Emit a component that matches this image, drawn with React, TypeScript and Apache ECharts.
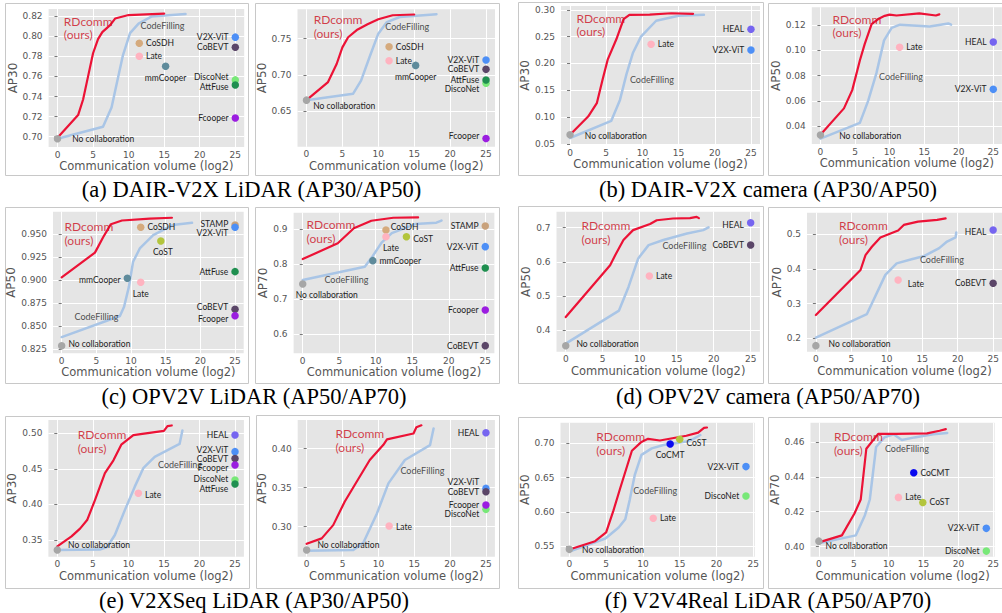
import React, { useEffect, useRef } from "react";
import * as echarts from "echarts";

type P = [number, number];
type M = [string, number, number];

const X_TICKS = [0, 5, 10, 15, 20, 25];

// ---------- (a) DAIR-V2X LiDAR ----------
const a1_yTicks = [0.7, 0.72, 0.74, 0.76, 0.78, 0.8, 0.82];
const a1_rdcomm: P[] = [[0, 0.699], [2.9, 0.7215], [3.6, 0.737], [4.3, 0.76], [5.0, 0.783], [5.7, 0.797], [6.3, 0.804], [7.4, 0.811], [8.1, 0.8175], [10, 0.821], [15, 0.8225]];
const a1_codefilling: P[] = [[0, 0.698], [6.4, 0.71], [7.6, 0.729], [8.3, 0.752], [9.2, 0.781], [10.2, 0.803], [11.4, 0.8125], [13.2, 0.8195], [18, 0.822]];
const a1_methods: M[] = [["No collaboration", 0, 0.698], ["CoSDH", 11.5, 0.793], ["Late", 11.5, 0.78], ["mmCooper", 15.2, 0.77], ["V2X-ViT", 25, 0.799], ["CoBEVT", 25, 0.789], ["DiscoNet", 25, 0.7565], ["AttFuse", 25, 0.7515], ["Fcooper", 25, 0.7186]];
const a1_notes: P[] = [[0.82, 0.8083], [11.6, 0.811]];

const a2_yTicks = [0.65, 0.7, 0.75];
const a2_rdcomm: P[] = [[0, 0.665], [3, 0.69], [4.2, 0.715], [5, 0.738], [5.8, 0.752], [7, 0.762], [8.5, 0.77], [10, 0.777], [12, 0.7825], [15, 0.7835]];
const a2_codefilling: P[] = [[0, 0.665], [6.5, 0.674], [7.6, 0.692], [8.8, 0.725], [10, 0.757], [11.2, 0.773], [13, 0.78], [18.1, 0.784]];
const a2_methods: M[] = [["No collaboration", 0, 0.665], ["CoSDH", 11.5, 0.739], ["Late", 11.5, 0.7196], ["mmCooper", 15.2, 0.7131], ["V2X-ViT", 25, 0.7205], ["CoBEVT", 25, 0.7076], ["DiscoNet", 25, 0.6883], ["AttFuse", 25, 0.6929], ["Fcooper", 25, 0.612]];
const a2_notes: P[] = [[0.93, 0.7666], [10.9, 0.7666]];

// ---------- (b) DAIR-V2X camera ----------
const b1_yTicks = [0.05, 0.1, 0.15, 0.2, 0.25, 0.3];
const b1_rdcomm: P[] = [[0, 0.067], [2.5, 0.101], [3.7, 0.126], [4.5, 0.17], [5.2, 0.207], [6.4, 0.245], [7.4, 0.2825], [8.2, 0.2905], [11, 0.291], [14, 0.2935], [17, 0.2925]];
const b1_codefilling: P[] = [[0, 0.061], [5.7, 0.093], [6.9, 0.132], [7.8, 0.18], [8.7, 0.22], [9.8, 0.25], [11.9, 0.2795], [15, 0.289], [18.5, 0.2905]];
const b1_methods: M[] = [["No collaboration", 0, 0.067], ["Late", 11.2, 0.2356], ["HEAL", 25, 0.2638], ["V2X-ViT", 25, 0.225]];
const b1_notes: P[] = [[0.82, 0.2713], [8.2, 0.17]];

const b2_yTicks = [0.04, 0.06, 0.08, 0.1, 0.12];
const b2_rdcomm: P[] = [[0, 0.033], [3.4, 0.054], [4.6, 0.0685], [5.7, 0.092], [6.4, 0.105], [7.4, 0.121], [8.5, 0.1255], [9.3, 0.1275], [10, 0.1285], [11, 0.1278], [14.3, 0.1295], [16.7, 0.1278], [17.2, 0.1287]];
const b2_codefilling: P[] = [[0, 0.03], [5.7, 0.0425], [6.9, 0.06], [8.1, 0.082], [9.2, 0.108], [10.3, 0.118], [11.5, 0.1205], [15.8, 0.119], [18.5, 0.1215], [18.9, 0.1205]];
const b2_methods: M[] = [["No collaboration", 0, 0.0329], ["Late", 11.45, 0.1025], ["HEAL", 25, 0.1068], ["V2X-ViT", 25, 0.0691]];
const b2_notes: P[] = [[1.68, 0.1195], [8.4, 0.0792]];

// ---------- (c) OPV2V LiDAR ----------
const c1_yTicks = [0.825, 0.85, 0.875, 0.9, 0.925, 0.95];
const c1_rdcomm: P[] = [[0, 0.903], [4.8, 0.93], [6, 0.947], [7.1, 0.961], [8.7, 0.965], [12.7, 0.967], [15.9, 0.968]];
const c1_codefilling: P[] = [[0, 0.838], [8.4, 0.861], [9.0, 0.871], [9.7, 0.893], [10.3, 0.92], [11.3, 0.935], [13.2, 0.949], [16, 0.96], [18.8, 0.9625]];
const c1_methods: M[] = [["No collaboration", 0, 0.8286], ["CoSDH", 11.4, 0.9576], ["CoST", 14.3, 0.9427], ["mmCooper", 9.47, 0.902], ["Late", 11.4, 0.8977], ["STAMP", 25, 0.9602], ["V2X-ViT", 25, 0.9576], ["AttFuse", 25, 0.9093], ["CoBEVT", 25, 0.8682], ["Fcooper", 25, 0.8613]];
const c1_notes: P[] = [[0.34, 0.951], [1.78, 0.8603]];

const c2_yTicks = [0.6, 0.7, 0.8, 0.9];
const c2_rdcomm: P[] = [[0, 0.815], [4.8, 0.86], [7, 0.903], [9.4, 0.9245], [12.4, 0.933], [15.8, 0.934]];
const c2_codefilling: P[] = [[0, 0.755], [8.5, 0.793], [9.6, 0.824], [10.8, 0.862], [12.2, 0.889], [15.4, 0.915], [18.3, 0.919], [19, 0.925]];
const c2_methods: M[] = [["No collaboration", 0, 0.7438], ["CoSDH", 11.4, 0.898], ["Late", 11.4, 0.879], ["CoST", 14.2, 0.879], ["mmCooper", 9.6, 0.8105], ["STAMP", 25, 0.9095], ["V2X-ViT", 25, 0.8505], ["AttFuse", 25, 0.7895], ["Fcooper", 25, 0.6695], ["CoBEVT", 25, 0.5676]];
const c2_notes: P[] = [[0.46, 0.8933], [2.9, 0.7552]];

// ---------- (d) OPV2V camera ----------
const d1_yTicks = [0.4, 0.5, 0.6, 0.7];
const d1_rdcomm: P[] = [[0, 0.438], [6, 0.59], [6.7, 0.62], [7.8, 0.664], [9.1, 0.693], [11.4, 0.711], [12.3, 0.722], [14.5, 0.727], [16.8, 0.728], [17.7, 0.732], [18, 0.728]];
const d1_codefilling: P[] = [[0, 0.36], [7.2, 0.457], [8.5, 0.527], [9.8, 0.61], [11.2, 0.649], [13.2, 0.664], [16.4, 0.683], [18.6, 0.693], [19.3, 0.701]];
const d1_methods: M[] = [["No collaboration", 0, 0.354], ["Late", 11.3, 0.5583], ["HEAL", 25, 0.7147], ["CoBEVT", 25, 0.6492]];
const d1_notes: P[] = [[2.07, 0.6863], [13, 0.6492]];

const d2_yTicks = [0.2, 0.3, 0.4, 0.5];
const d2_rdcomm: P[] = [[0, 0.267], [6.3, 0.397], [7, 0.44], [7.9, 0.464], [9.1, 0.491], [11.6, 0.511], [12.4, 0.527], [14.4, 0.5365], [17.1, 0.5415], [18.3, 0.546]];
const d2_codefilling: P[] = [[0, 0.202], [7.2, 0.27], [9.8, 0.383], [11.4, 0.416], [13.5, 0.428], [15.3, 0.4375], [17.4, 0.46], [18.5, 0.479], [19.7, 0.491], [19.8, 0.505]];
const d2_methods: M[] = [["No collaboration", 0, 0.1788], ["Late", 11.6, 0.3683], ["HEAL", 25, 0.5125], ["CoBEVT", 25, 0.3587]];
const d2_notes: P[] = [[3.2, 0.5058], [14.6, 0.426]];

// ---------- (e) V2XSeq LiDAR ----------
const e1_yTicks = [0.35, 0.4, 0.45, 0.5];
const e1_rdcomm: P[] = [[0, 0.341], [2, 0.355], [3.2, 0.366], [4.2, 0.378], [5.3, 0.406], [6.7, 0.444], [7.9, 0.462], [9, 0.484], [10.7, 0.4975], [15, 0.5035], [15.5, 0.51], [16.1, 0.511]];
const e1_codefilling: P[] = [[0, 0.336], [6, 0.3365], [7, 0.34], [8.1, 0.357], [9.5, 0.392], [10.9, 0.425], [12.1, 0.451], [13.7, 0.467], [17.2, 0.485], [17.6, 0.504]];
const e1_methods: M[] = [["No collaboration", 0, 0.3359], ["Late", 11.4, 0.4156], ["HEAL", 25, 0.4977], ["V2X-ViT", 25, 0.4742], ["CoBEVT", 25, 0.4644], ["Fcooper", 25, 0.4555], ["DiscoNet", 25, 0.4344], ["AttFuse", 25, 0.4287]];
const e1_notes: P[] = [[2.8, 0.4883], [14.1, 0.4564]];

const e2_yTicks = [0.3, 0.35, 0.4];
const e2_rdcomm: P[] = [[0, 0.278], [2.1, 0.285], [3.7, 0.302], [5.3, 0.332], [6.7, 0.3535], [8.8, 0.3855], [10.7, 0.405], [11.2, 0.412], [14.9, 0.4195], [15.3, 0.4275], [16, 0.43]];
const e2_codefilling: P[] = [[0, 0.269], [6.5, 0.27], [7.9, 0.2795], [9.8, 0.317], [11.4, 0.3555], [13.7, 0.3855], [17.2, 0.4045], [17.7, 0.426]];
const e2_methods: M[] = [["No collaboration", 0, 0.2701], ["Late", 11.5, 0.3009], ["HEAL", 25, 0.4205], ["V2X-ViT", 25, 0.3491], ["CoBEVT", 25, 0.3449], ["DiscoNet", 25, 0.3222], ["Fcooper", 25, 0.3278]];
const e2_notes: P[] = [[3.95, 0.4103], [13, 0.3714]];

// ---------- (f) V2V4Real LiDAR ----------
const f1_yTicks = [0.55, 0.6, 0.65, 0.7];
const f1_rdcomm: P[] = [[0, 0.545], [3.5, 0.557], [5, 0.57], [6, 0.602], [6.9, 0.634], [8.5, 0.689], [9.8, 0.702], [10.7, 0.7065], [12.3, 0.704], [15.9, 0.711], [17.5, 0.7155], [18.3, 0.7225], [18.7, 0.723]];
const f1_codefilling: P[] = [[0, 0.542], [4.9, 0.561], [6.7, 0.577], [7.6, 0.589], [8.2, 0.617], [8.9, 0.654], [9.8, 0.683], [11.2, 0.6925], [12.8, 0.6975], [15.9, 0.7025], [16.8, 0.706], [17.8, 0.712]];
const f1_methods: M[] = [["No collaboration", 0, 0.5451], ["Late", 11.4, 0.5904], ["CoCMT", 13.7, 0.699], ["CoST", 15, 0.7058], ["V2X-ViT", 24, 0.6659], ["DiscoNet", 24, 0.623]];
const f1_notes: P[] = [[3.6, 0.7], [8.6, 0.6308]];

const f2_yTicks = [0.4, 0.42, 0.44, 0.46];
const f2_rdcomm: P[] = [[0, 0.4025], [3.3, 0.4065], [5.1, 0.419], [6, 0.427], [6.8, 0.456], [8.5, 0.4645], [11, 0.4645], [15.5, 0.4648], [17.3, 0.4663], [18.2, 0.4672]];
const f2_codefilling: P[] = [[0, 0.402], [5.3, 0.4065], [6.6, 0.418], [7.3, 0.427], [8.2, 0.457], [9.4, 0.4625], [10.7, 0.4643], [11.9, 0.461], [13.7, 0.4625], [16.4, 0.4643], [18.4, 0.465]];
const f2_methods: M[] = [["No collaboration", 0, 0.4032], ["CoCMT", 13.6, 0.4423], ["Late", 11.4, 0.4282], ["CoST", 14.9, 0.4253], ["V2X-ViT", 24, 0.4105], ["DiscoNet", 24, 0.3975]];
const f2_notes: P[] = [[2.1, 0.459], [9.4, 0.4562]];

const CAPTIONS = [
  "(a) DAIR-V2X LiDAR (AP30/AP50)",
  "(b) DAIR-V2X camera (AP30/AP50)",
  "(c) OPV2V LiDAR (AP50/AP70)",
  "(d) OPV2V camera (AP50/AP70)",
  "(e) V2XSeq LiDAR (AP30/AP50)",
  "(f) V2V4Real LiDAR (AP50/AP70)",
];

// ---------- styles / layout ----------
const COLORS: Record<string, string> = {
  "No collaboration": "#a6a6a6",
  CoSDH: "#d5aa7d",
  STAMP: "#c9a27c",
  Late: "#ffb3c0",
  mmCooper: "#5f8b9b",
  "V2X-ViT": "#4d8ff6",
  CoBEVT: "#5b4668",
  DiscoNet: "#78e878",
  AttFuse: "#1f8f4f",
  Fcooper: "#9b1de0",
  HEAL: "#7665f0",
  CoST: "#b3c53c",
  CoCMT: "#0a0af0",
};

type Layout = { frame: number[]; grid: number[]; xr: number[]; yr: number[]; dec: number; yName: string; yDist: number };
const LAYOUT: Record<string, Layout> = {
  a1: { frame: [5, 3, 248, 175], grid: [48.6, 9, 244.2, 147], xr: [-1.25, 26.25], yr: [0.6898, 0.827], dec: 2, yName: "AP30", yDist: 33.5 },
  a2: { frame: [255, 3, 499, 175], grid: [297.5, 9.3, 495, 146.7], xr: [-1.25, 26.25], yr: [0.6006, 0.7907], dec: 2, yName: "AP50", yDist: 32 },
  b1: { frame: [518, 2, 763, 175], grid: [561, 6, 760, 145], xr: [-1.25, 26.25], yr: [0.048, 0.307], dec: 2, yName: "AP30", yDist: 33 },
  b2: { frame: [768, 3, 1012, 175], grid: [811.8, 7.3, 1007.9, 144], xr: [-1.25, 26.25], yr: [0.0257, 0.1343], dec: 2, yName: "AP50", yDist: 34 },
  c1: { frame: [5, 207, 248, 383], grid: [53, 211.7, 243.7, 353.3], xr: [-1.25, 26.25], yr: [0.8203, 0.9746], dec: 3, yName: "AP50", yDist: 38 },
  c2: { frame: [255, 207, 499, 383], grid: [293.6, 212.7, 494.4, 353.3], xr: [-1.25, 26.25], yr: [0.5457, 0.9475], dec: 1, yName: "AP70", yDist: 28.6 },
  d1: { frame: [518, 206, 763, 383], grid: [556.5, 211.7, 759.9, 351.7], xr: [-1.25, 26.25], yr: [0.3364, 0.747], dec: 1, yName: "AP50", yDist: 28 },
  d2: { frame: [768, 207, 1012, 383], grid: [807, 212.7, 1005.9, 351.7], xr: [-1.25, 26.25], yr: [0.1613, 0.5623], dec: 1, yName: "AP70", yDist: 27.7 },
  e1: { frame: [5, 416, 249, 588], grid: [48.4, 420, 243.9, 556.7], xr: [-1.25, 26.25], yr: [0.3265, 0.5187], dec: 2, yName: "AP30", yDist: 33.4 },
  e2: { frame: [256, 415, 499, 588], grid: [297.7, 420, 494.9, 556.7], xr: [-1.25, 26.25], yr: [0.2615, 0.4368], dec: 2, yName: "AP50", yDist: 32.7 },
  f1: { frame: [518, 417, 763, 588], grid: [560.5, 422.7, 754.8, 556.7], xr: [-1.2, 25.2], yr: [0.5344, 0.73], dec: 2, yName: "AP50", yDist: 32 },
  f2: { frame: [768, 417, 1012, 588], grid: [810.5, 422.7, 1005, 556.7], xr: [-1.2, 25.2], yr: [0.3943, 0.4709], dec: 2, yName: "AP70", yDist: 31.2 },
};

const CAPTION_POS: number[][] = [[251.5, 189], [768, 189], [254, 396], [768, 396], [254, 600], [768, 600]];

// [position, dx, dy]; default: left for right-column methods, right otherwise
const LABEL_POS: Record<string, [string, number, number]> = {
  "a1|No collaboration": ["right", 8, 0],
  "a1|mmCooper": ["bottom", 0, 0],
  "a1|DiscoNet": ["left", 0, -3],
  "a1|AttFuse": ["left", 0, 2],
  "a2|No collaboration": ["right", 0, 6],
  "a2|mmCooper": ["bottom", 0, 0],
  "a2|DiscoNet": ["left", 0, 6],
  "a2|Fcooper": ["left", 0, -2],
  "b1|No collaboration": ["right", 8, 1],
  "b2|No collaboration": ["right", 12, 1],
  "c1|No collaboration": ["right", 0, -2],
  "c1|CoST": ["bottom", 2, 0],
  "c1|mmCooper": ["left", 0, 2],
  "c1|Late": ["bottom", 0, 0],
  "c1|STAMP": ["left", 0, -1],
  "c1|V2X-ViT": ["left", 0, 6],
  "c1|CoBEVT": ["left", 0, -2],
  "c1|Fcooper": ["left", 0, 3],
  "c2|No collaboration": ["bottom", 24, 0],
  "c2|CoSDH": ["right", -2, -3],
  "c2|Late": ["bottom", 5, 0],
  "c2|CoST": ["right", 0, 2],
  "d1|No collaboration": ["right", 4, -2],
  "d1|HEAL": ["left", 0, 2],
  "d2|No collaboration": ["right", 6, -2],
  "d2|Late": ["right", 3, 4],
  "d2|HEAL": ["left", 0, 2],
  "e1|No collaboration": ["right", 4, -5],
  "e1|Late": ["right", 0, 2],
  "e1|V2X-ViT": ["left", 0, -2],
  "e1|Fcooper": ["left", 0, 3],
  "e1|DiscoNet": ["left", 0, -1],
  "e1|AttFuse": ["left", 0, 5],
  "e2|No collaboration": ["right", 4, -5],
  "e2|Late": ["right", 0, 1],
  "e2|V2X-ViT": ["left", 0, -6],
  "e2|DiscoNet": ["left", 0, 5],
  "f1|No collaboration": ["right", 6, 1],
  "f1|CoCMT": ["bottom", 0, 0],
  "f1|CoST": ["right", 0, 4],
  "f2|No collaboration": ["right", 0, 5],
};

const PANELS = [
  { id: "a1", yTicks: a1_yTicks, rd: a1_rdcomm, cf: a1_codefilling, methods: a1_methods, notes: a1_notes },
  { id: "a2", yTicks: a2_yTicks, rd: a2_rdcomm, cf: a2_codefilling, methods: a2_methods, notes: a2_notes },
  { id: "b1", yTicks: b1_yTicks, rd: b1_rdcomm, cf: b1_codefilling, methods: b1_methods, notes: b1_notes },
  { id: "b2", yTicks: b2_yTicks, rd: b2_rdcomm, cf: b2_codefilling, methods: b2_methods, notes: b2_notes },
  { id: "c1", yTicks: c1_yTicks, rd: c1_rdcomm, cf: c1_codefilling, methods: c1_methods, notes: c1_notes },
  { id: "c2", yTicks: c2_yTicks, rd: c2_rdcomm, cf: c2_codefilling, methods: c2_methods, notes: c2_notes },
  { id: "d1", yTicks: d1_yTicks, rd: d1_rdcomm, cf: d1_codefilling, methods: d1_methods, notes: d1_notes },
  { id: "d2", yTicks: d2_yTicks, rd: d2_rdcomm, cf: d2_codefilling, methods: d2_methods, notes: d2_notes },
  { id: "e1", yTicks: e1_yTicks, rd: e1_rdcomm, cf: e1_codefilling, methods: e1_methods, notes: e1_notes },
  { id: "e2", yTicks: e2_yTicks, rd: e2_rdcomm, cf: e2_codefilling, methods: e2_methods, notes: e2_notes },
  { id: "f1", yTicks: f1_yTicks, rd: f1_rdcomm, cf: f1_codefilling, methods: f1_methods, notes: f1_notes },
  { id: "f2", yTicks: f2_yTicks, rd: f2_rdcomm, cf: f2_codefilling, methods: f2_methods, notes: f2_notes },
];

const AXIS_FONT = "DejaVu Sans";
const LABEL_FONT = "Lato";
const AXIS_GREY = "#555555";

function buildOption() {
  const grid: any[] = [];
  const xAxis: any[] = [];
  const yAxis: any[] = [];
  const series: any[] = [];
  const graphic: any[] = [];

  PANELS.forEach((p, i) => {
    const L = LAYOUT[p.id];
    const [gl, gt, gr, gb] = L.grid;
    grid.push({ left: gl, top: gt, width: gr - gl, height: gb - gt, show: true, backgroundColor: "#e5e5e5", borderWidth: 0, containLabel: false });
    xAxis.push({
      type: "value", gridIndex: i, min: L.xr[0], max: L.xr[1],
      axisLine: { show: false },
      axisTick: { show: false, customValues: X_TICKS },
      axisLabel: { customValues: X_TICKS, color: AXIS_GREY, fontSize: 9, fontFamily: AXIS_FONT, margin: 3, formatter: (v: number) => String(v) },
      splitLine: { show: true, lineStyle: { color: "#ffffff", width: 1 } },
      name: "Communication volume (log2)", nameLocation: "middle", nameGap: 12,
      nameTextStyle: { color: AXIS_GREY, fontSize: 11.5, fontFamily: AXIS_FONT },
    });
    yAxis.push({
      type: "value", gridIndex: i, min: L.yr[0], max: L.yr[1],
      axisLine: { show: false },
      axisTick: { show: true, length: 3, customValues: p.yTicks, lineStyle: { color: "#777777", width: 1 } },
      axisLabel: { customValues: p.yTicks, color: AXIS_GREY, fontSize: 9, fontFamily: AXIS_FONT, margin: 6, formatter: (v: number) => v.toFixed(L.dec) },
      splitLine: { show: true, lineStyle: { color: "#ffffff", width: 1 } },
      name: L.yName, nameLocation: "middle", nameGap: L.yDist - 12,
      nameTextStyle: { color: AXIS_GREY, fontSize: 12, fontFamily: AXIS_FONT },
    });

    series.push({
      type: "line", xAxisIndex: i, yAxisIndex: i, data: p.cf, symbol: "none", showSymbol: false, silent: true, z: 2,
      lineStyle: { color: "#a9c5e6", width: 2.5, cap: "round", join: "round" },
    });
    series.push({
      type: "line", xAxisIndex: i, yAxisIndex: i, data: p.rd, symbol: "none", showSymbol: false, silent: true, z: 3,
      lineStyle: { color: "#ec1236", width: 2.2, cap: "round", join: "round" },
    });
    series.push({
      type: "scatter", xAxisIndex: i, yAxisIndex: i, symbolSize: 7.5, z: 4, silent: true,
      data: p.methods.map(([name, x, y]) => {
        const pos = LABEL_POS[p.id + "|" + name] || [x >= 20 ? "left" : "right", 0, 0];
        return {
          name, value: [x, y],
          itemStyle: { color: COLORS[name], opacity: 1 },
          label: { show: true, formatter: "{b}", position: pos[0], distance: 3, offset: [pos[1], pos[2]], color: "#222222", fontSize: 8.5, fontFamily: LABEL_FONT },
        };
      }),
    });
    series.push({
      type: "scatter", xAxisIndex: i, yAxisIndex: i, symbolSize: 1, z: 5, silent: true,
      itemStyle: { color: "rgba(0,0,0,0)" },
      data: [
        { value: p.notes[0], label: { show: true, formatter: "RDcomm\n(ours)", position: "right", distance: 0, color: "#cc0f1e", fontSize: 12, lineHeight: 13.5, fontFamily: LABEL_FONT } },
        { value: p.notes[1], label: { show: true, formatter: "CodeFilling", position: "right", distance: 0, color: "#222222", fontSize: 9, fontFamily: LABEL_FONT } },
      ],
    });

    const [fx0, fy0, fx1, fy1] = L.frame;
    graphic.push({ type: "rect", z: -10, silent: true, shape: { x: fx0 + 0.5, y: fy0 + 0.5, width: fx1 - fx0, height: fy1 - fy0 }, style: { fill: "none", stroke: "#c8c8c8", lineWidth: 1 } });
  });

  CAPTIONS.forEach((c, i) => {
    graphic.push({
      type: "text", silent: true, x: CAPTION_POS[i][0], y: CAPTION_POS[i][1],
      style: { text: c, fill: "#000000", font: '22.5px "Liberation Serif", "Times New Roman", serif', align: "center", verticalAlign: "middle", textAlign: "center", textVerticalAlign: "middle" },
    });
  });

  return { animation: false, backgroundColor: "#ffffff", grid, xAxis, yAxis, series, graphic };
}

export default function App() {
  const ref = useRef<HTMLDivElement>(null);
  useEffect(() => {
    if (!ref.current) return;
    const chart = echarts.init(ref.current, undefined, { renderer: "svg" });
    chart.setOption(buildOption() as any);
    return () => chart.dispose();
  }, []);
  return <div ref={ref} style={{ position: "absolute", left: 0, top: 0, width: 1002, height: 613, background: "#fff" }} />;
}
